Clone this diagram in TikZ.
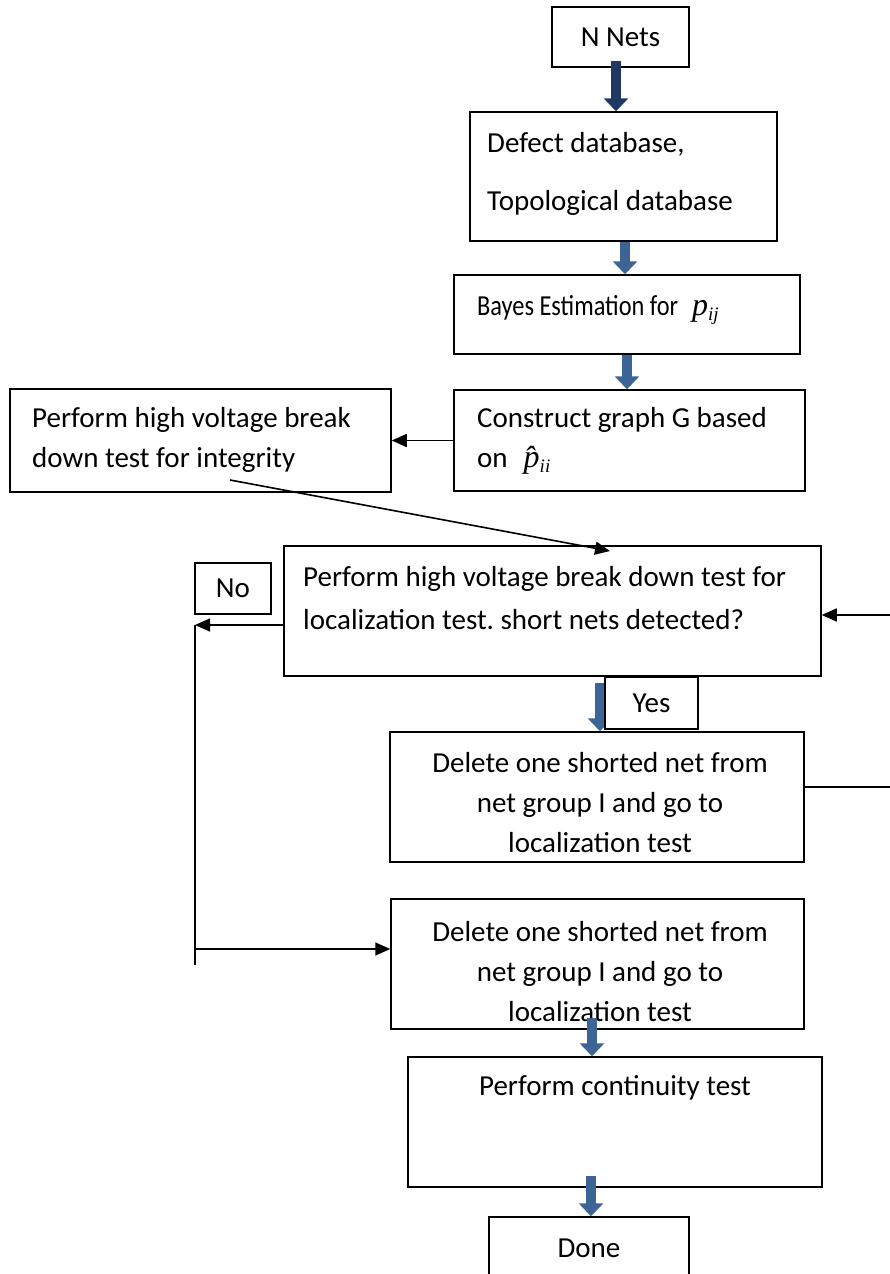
\documentclass[tikz,border=0pt]{standalone}
\usepackage{fontspec}
\usepackage{graphicx}
\setmainfont{Carlito}
\newfontfamily\timesfont{Liberation Serif}
\usetikzlibrary{arrows.meta}

\definecolor{arrowblue}{RGB}{60,100,150}
\definecolor{arrownavy}{RGB}{31,56,100}

% estimates written in a serif italic
\newcommand{\pij}{{\timesfont\itshape\fontsize{32}{36}\selectfont
    p\raisebox{-5pt}{\fontsize{19}{19}\selectfont ij}}}
\newcommand{\phatii}{{\timesfont\itshape\fontsize{32}{36}\selectfont
    \^{p}\raisebox{-5pt}{\fontsize{19}{19}\selectfont ii}}}

\frenchspacing

\begin{document}
\begin{tikzpicture}[x=1pt, y=-1pt,
    box/.style={draw, line width=1.5pt, fill=white, inner sep=0pt,
        font=\fontsize{29}{40}\selectfont},
    txt/.style={inner sep=0pt, font=\fontsize{29}{40}\selectfont},
    flow/.style={line width=1.6pt, -{Triangle[width=13pt,length=15pt]}},
    plain/.style={line width=1.6pt},
    bigarrow/.style={draw=arrowblue, line width=10pt,
        -{Triangle[width=24pt,length=13pt]}}]

    \useasboundingbox (0,0) rectangle (890,1274);

    % main column
    \node[box, minimum width=137, minimum height=60] (nets) at (620.5,37) {N Nets};
    \node[box, minimum width=307, minimum height=129] (defect) at (623.5,176.5) {};
    \node[box, minimum width=346, minimum height=79] (bayes) at (627,314.5) {};
    \node[box, minimum width=351, minimum height=101] (construct) at (629.5,440.5) {};
    \node[box, minimum width=381, minimum height=103] (hv) at (200.5,440.5) {};
    \node[box, minimum width=537, minimum height=130] (loc) at (552.5,611) {};
    \node[box, minimum width=414, minimum height=130] (del1) at (597,797) {};
    \node[box, minimum width=413, minimum height=130] (del2) at (597.5,964) {};
    \node[box, minimum width=414, minimum height=130] (cont) at (615,1122) {};
    \node[box, minimum width=200, minimum height=62] (done) at (589,1248) {Done};

    % box texts
    \node[txt, anchor=west, align=left] (defect-t) at (487,174)
        {Defect database,\\[18pt]Topological database};
    \node[txt, anchor=west] (bayes-t) at (477,310)
        {\scalebox{0.84}[1]{Bayes Estimation for}\hspace{14pt}\pij};
    \node[txt, anchor=west, align=left] (construct-t) at (477,441)
        {Construct graph G based\\on\hspace{16pt}\phatii};
    \node[txt, anchor=west, align=left] (hv-t) at (32,440)
        {Perform high voltage break\\down test for integrity};
    \node[txt, anchor=west, align=left] (loc-t) at (303,598)
        {Perform high voltage break down test for\\[3pt]localization test. short nets detected?};
    \node[txt, align=center] (del1-t) at (600,803)
        {Delete one shorted net from\\net group I and go to\\localization test};
    \node[txt, align=center] (del2-t) at (600,972)
        {Delete one shorted net from\\net group I and go to\\localization test};
    \node[txt] (cont-t) at (615,1088) {Perform continuity test};

    % block arrows down the column
    \draw[bigarrow, draw=arrownavy] ([xshift=-4.5pt,yshift=7pt]nets.south) -- ([xshift=-7.5pt]defect.north);
    \draw[bigarrow] ([xshift=1.5pt]defect.south) -- ([xshift=-2pt]bayes.north);
    \draw[bigarrow] (bayes.south) -- ([xshift=-2.5pt]construct.north);
    \draw[bigarrow] ([xshift=47.5pt,yshift=-6pt]loc.south) -- ([xshift=3pt]del1.north);
    \draw[bigarrow] ([xshift=-5.5pt,yshift=12pt]del2.south) -- ([xshift=-23pt]cont.north);
    \draw[bigarrow] ([xshift=-24pt,yshift=12pt]cont.south) -- ([xshift=2pt]done.north);

    % yes / no labels
    \node[box, minimum width=93, minimum height=52] (yes) at (651.5,703) {Yes};
    \node[box, minimum width=76, minimum height=51] (no) at (233,588.5) {No};

    % thin connectors
    \draw[flow] (construct.west) -- (hv.east);

    \coordinate (tail) at (230,480);
    \coordinate (drop) at (610,551);
    \draw[flow] (tail) -- (drop);

    \coordinate (loopin) at (890,615);
    \draw[flow] (loopin) -- (loopin -| loc.east);
    \coordinate (loopout) at (890,787);
    \draw[plain] (loopout -| del1.east) -- (loopout);

    \coordinate (nocorner) at (195,625);
    \coordinate (noend) at (195,965);
    \coordinate (nojoin) at (195,949);
    \draw[flow] (nocorner -| loc.west) -- (nocorner);
    \draw[plain] (nocorner) -- (noend);
    \draw[flow] (nojoin) -- (nojoin -| del2.west);
\end{tikzpicture}
\end{document}
